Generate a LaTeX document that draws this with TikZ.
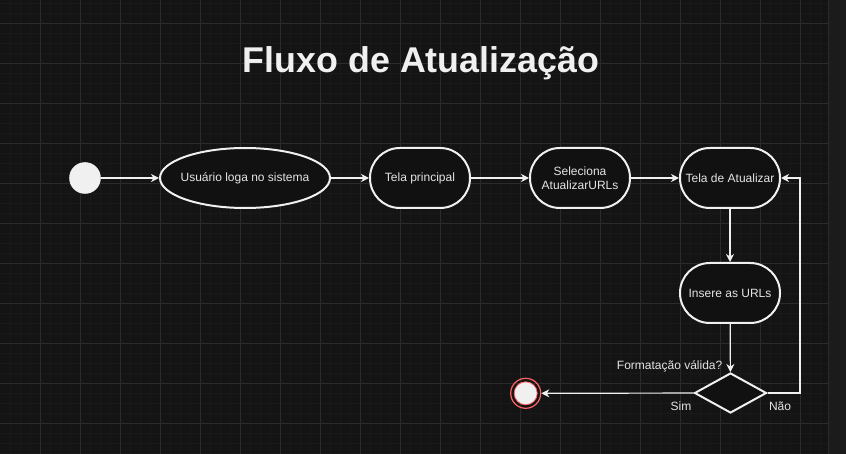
\documentclass[tikz,border=0pt]{standalone}
\usepackage{fontspec}
\setmainfont{Liberation Sans}
\usetikzlibrary{positioning}
\usetikzlibrary{arrows.meta}
\usetikzlibrary{shapes.geometric}
\definecolor{fundo}{RGB}{20,20,20}
\definecolor{gridmin}{RGB}{25,25,25}
\definecolor{gridmaj}{RGB}{43,43,43}
\definecolor{faixa}{RGB}{27,27,27}
\definecolor{caixa}{RGB}{17,17,17}
\definecolor{traco}{RGB}{240,240,240}
\definecolor{texto}{RGB}{228,228,228}
\definecolor{fimred}{RGB}{255,100,100}

\begin{document}
\begin{tikzpicture}[x=1pt, y=-1pt,
    etapa/.style={draw=traco, fill=caixa, line width=2pt, rounded corners=29.9pt,
      minimum width=100pt, minimum height=60pt, inner sep=0pt, text=texto,
      align=center, font=\fontsize{12}{14}\selectfont},
    elipse/.style={etapa, ellipse, rounded corners=0pt, inner xsep=-5pt, minimum width=170pt},
    decisao/.style={diamond, draw=traco, fill=caixa, line width=2pt, inner sep=0pt,
      minimum width=72pt, minimum height=40pt},
    rotulo/.style={text=texto, inner sep=0pt, font=\fontsize{12}{14}\selectfont},
    fluxo/.style={draw=traco, line width=1.2pt, -{Stealth[length=8pt,width=8pt,inset=2.5pt]}}]

    % background and grid
    \fill[fundo] (0,0) rectangle (846,454);
    \useasboundingbox (0,0) rectangle (846,454);
    \foreach \x in {10,20,...,820}
      \draw[gridmin, line width=0.6pt] (\x,0) -- (\x,454);
    \foreach \y in {3,13,...,453}
      \draw[gridmin, line width=0.6pt] (0,\y) -- (828,\y);
    \foreach \x in {40,80,...,800}
      \draw[gridmaj, line width=0.8pt] (\x,0) -- (\x,454);
    \foreach \y in {23,63,...,423}
      \draw[gridmaj, line width=0.8pt] (0,\y) -- (828,\y);
    \fill[faixa] (828,0) rectangle (846,454);
    \draw[gridmaj, line width=1pt] (828.5,0) -- (828.5,454);

    % title
    \node (titulo) at (421,63.5) {\fontsize{35.8}{40}\selectfont\bfseries\color{traco}Fluxo de Atualização};

    % draw nodes
    \node[circle, fill=traco, minimum size=31.6pt, inner sep=0pt] (inicio) at (85,178) {};
    \node[elipse] (login) at (245,178) {Usuário loga no sistema};
    \node[etapa] (principal) at (420,178) {Tela principal};
    \node[etapa] (seleciona) at (580,178) {Seleciona\\AtualizarURLs};
    \node[etapa] (atualizar) at (730,178) {Tela de Atualizar};
    \node[etapa] (insere) at (730,293) {Insere as URLs};
    \node[decisao] (valida) at (730.5,393) {};
    \node[circle, draw=fimred, line width=1.2pt, minimum size=30pt, inner sep=0pt] (fim) at (525.7,393.3) {};
    \node[circle, draw=fimred, fill=traco, line width=0.8pt, minimum size=23pt, inner sep=0pt] (fimdentro) at (fim) {};

    % labels
    \node[rotulo, anchor=east] (pergunta) at (722.5,366) {Formatação válida?};
    \node[rotulo] (sim) at (681,406) {Sim};
    \node[rotulo] (nao) at (780,406) {Não};

    % draw connectors
    \draw[fluxo] (inicio) -- (login);
    \draw[fluxo] (login) -- (principal);
    \draw[fluxo] (principal) -- (seleciona);
    \draw[fluxo] (seleciona) -- (atualizar);
    \draw[fluxo] (atualizar) -- (insere);
    \draw[fluxo] (insere) -- (valida);
    \draw[fluxo] (valida) -- (fim);
    \coordinate (volta) at (800,393);
    \draw[fluxo] (valida.east) -- (volta) |- (atualizar.east);

\end{tikzpicture}
\end{document}
